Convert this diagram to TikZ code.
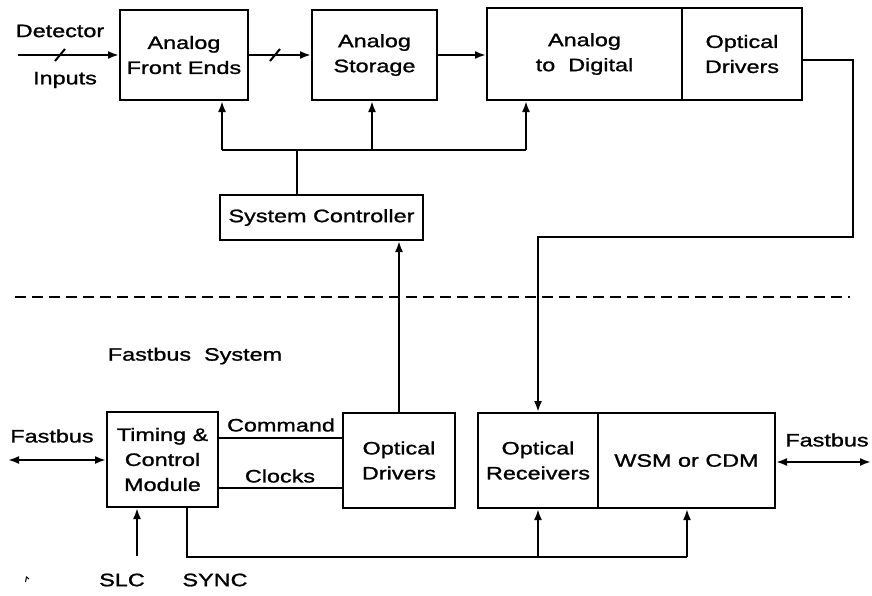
\documentclass[tikz,border=0pt]{standalone}
\usepackage{fontspec}
\setmainfont{Liberation Sans}[FakeStretch=1.3,FakeBold=1.2]
\usetikzlibrary{arrows.meta}
\begin{document}
\begin{tikzpicture}[x=1pt,y=-1pt,
  every node/.style={font=\fontsize{18}{25}\selectfont, align=center, inner sep=0pt},
  blk/.style={draw, line width=2pt, minimum width=#1},
  wire/.style={line width=2pt},
  arr/.style={wire, -{Latex[length=11pt,width=8pt]}},
  darr/.style={wire, {Latex[length=11pt,width=8pt]}-{Latex[length=11pt,width=8pt]}},
  lbl/.style={}]
\useasboundingbox (0,0) rectangle (872,595);
% top boxes
\node[blk=128, minimum height=90] (afe) at (184,55) {Analog\\Front Ends};
\node[blk=125, minimum height=90] (as) at (374.5,55) {Analog\\Storage};
\node[blk=195, minimum height=92] (adc) at (584.5,54) {Analog\\to~~Digital};
\node[blk=120, minimum height=92] (odr) at (742,54) {Optical\\Drivers};
\node[blk=203, minimum height=45] (sc) at (321.5,217.5) {System Controller};
% bottom boxes
\node[blk=111, minimum height=95] (tcm) at (162.5,459.5) {Timing \&\\Control\\Module};
\node[blk=112, minimum height=95] (od2) at (399,460.5) {Optical\\Drivers};
\node[blk=120, minimum height=95] (or) at (538,460.5) {Optical\\Receivers};
\node[blk=177, minimum height=95] (wsm) at (686.5,460.5) {WSM or CDM};
% labels
\node[lbl] (ldet) at (60,31) {Detector};
\node[lbl] (linp) at (65,80) {Inputs};
\node[lbl] (lfs) at (195,356) {Fastbus~~System};
\node[lbl] (lcmd) at (281,425) {Command};
\node[lbl] (lclk) at (280,476) {Clocks};
\node[lbl] (lfbl) at (52,436) {Fastbus};
\node[lbl] (lfbr) at (827,440) {Fastbus};
\node[lbl] (lslc) at (122,580) {SLC};
\node[lbl] (lsync) at (215,580) {SYNC};
% detector input
\coordinate (det) at (18,55);
\draw[arr] (det) -- (afe.west);
\draw[wire] (55,61) -- (65,49);
\draw[arr] (afe.east) -- (as.west);
\draw[wire] (270,61) -- (280,49);
\draw[arr] (as.east) -- (as.east -| adc.west);
% control bus
\coordinate (bus) at (297,150);
\coordinate (b1) at (222,150);
\coordinate (b2) at (372,150);
\coordinate (b3) at (526,150);
\draw[wire] (sc.north -| bus) -- (bus);
\draw[wire] (b1) -- (b3);
\draw[arr] (b1) -- (b1 |- afe.south);
\draw[arr] (b2) -- (b2 |- as.south);
\draw[arr] (b3) -- (b3 |- adc.south);
% optical link
\coordinate (r1) at (853,60);
\coordinate (r2) at (853,237);
\draw[arr] (odr.east |- r1) -- (r1) -- (r2) -- (r2 -| or.north) -- (or.north);
\draw[arr] (od2.north) -- (od2.north |- sc.south);
% dashed divider
\coordinate (d1) at (15,297);
\coordinate (d2) at (850,297);
\draw[line width=1.6pt, dash pattern=on 11pt off 6pt] (d1) -- (d2);
% command/clocks
\draw[wire] (tcm.east |- 0,438) -- (od2.west |- 0,438);
\draw[wire] (tcm.east |- 0,488) -- (od2.west |- 0,488);
% fastbus
\coordinate (fbl) at (8,460);
\draw[darr] (fbl) -- (tcm.west |- fbl);
\coordinate (fbr) at (871,462);
\draw[darr] (wsm.east |- fbr) -- (fbr);
% SLC
\coordinate (slc) at (137,556);
\draw[arr] (slc) -- (slc |- tcm.south);
% SYNC
\coordinate (s1) at (187,557);
\coordinate (s2) at (538,557);
\coordinate (s3) at (687,557);
\draw[wire] (s1 |- tcm.south) -- (s1) -- (s3);
\draw[arr] (s2) -- (s2 |- or.south);
\draw[arr] (s3) -- (s3 |- wsm.south);
% stray mark
\draw[line width=1pt] (25.5,582) -- (26.5,577) -- (29,579);
\end{tikzpicture}
\end{document}
